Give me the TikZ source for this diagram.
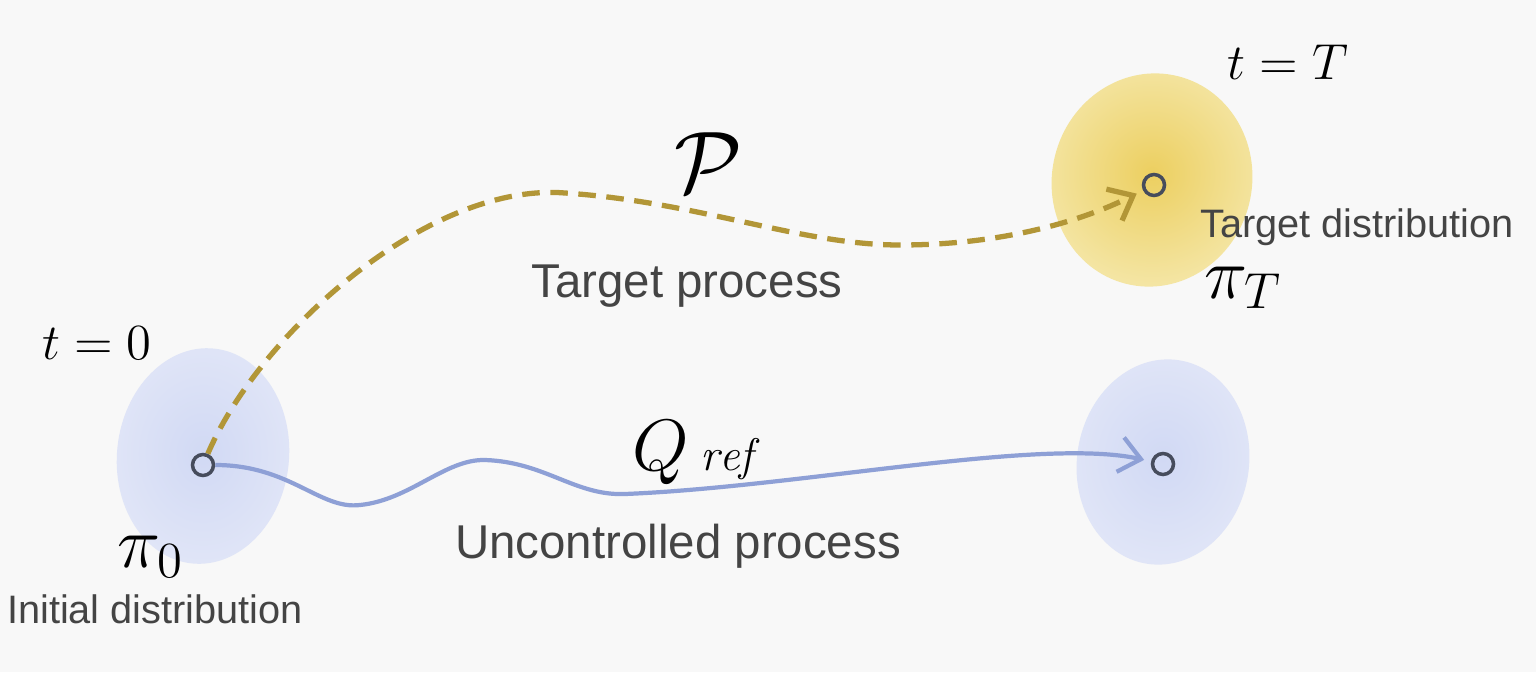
\documentclass[tikz,border=0pt]{standalone}
\usepackage{fontspec}
\newfontfamily\labelfont{Liberation Sans}
\usetikzlibrary{arrows.meta}
\definecolor{bggray}{RGB}{248,248,248}
\definecolor{blobblue}{RGB}{224,229,247}
\definecolor{blobbluec}{RGB}{209,217,244}
\definecolor{blobyel}{RGB}{244,229,163}
\definecolor{blobyelc}{RGB}{236,207,96}
\definecolor{pathgold}{RGB}{178,150,55}
\definecolor{pathblue}{RGB}{142,160,214}
\definecolor{dotgray}{RGB}{70,76,92}
\definecolor{labelgray}{RGB}{68,68,68}

\begin{document}
\begin{tikzpicture}[
  dot/.style={circle, draw=dotgray, line width=1pt, minimum size=0.21cm, inner sep=0pt},
  caption/.style={anchor=base, text=labelgray, font=\labelfont\fontsize{13.5}{16}\selectfont},
  smallcaption/.style={anchor=base, inner sep=0.5pt, text=labelgray, font=\labelfont\fontsize{11.3}{13}\selectfont},
  timelabel/.style={font=\fontsize{14.5}{17}\selectfont},
  distlabel/.style={anchor=base west, inner sep=0.5pt, font=\fontsize{20}{24}\selectfont},
  targetpath/.style={pathgold, line width=1.5pt, dash pattern=on 5pt off 3pt,
    -{Straight Barb[length=6pt, width=10pt, line width=1.5pt]}, shorten >=2pt},
  refpath/.style={pathblue, line width=1.2pt,
    -{Straight Barb[length=6pt, width=10pt, line width=1.2pt]}, shorten >=2pt}
]

\useasboundingbox (0, 0) rectangle (15.36, 6.72);
\fill[bggray] (0, 0) rectangle (15.36, 6.72);

\shade[inner color=blobbluec, outer color=blobblue, rotate around={-6:(2.03, 2.16)}] (2.03, 2.16) ellipse [x radius=0.86, y radius=1.08];
\shade[inner color=blobbluec, outer color=blobblue, rotate around={-9:(11.63, 2.10)}] (11.63, 2.10) ellipse [x radius=0.86, y radius=1.03];
\shade[inner color=blobyelc, outer color=blobyel, rotate around={-14:(11.52, 4.92)}] (11.52, 4.92) ellipse [x radius=1.0, y radius=1.07];

\node[dot] (start) at (2.03, 2.07) {};
\node[dot] (goal) at (11.54, 4.87) {};
\node[dot] (end) at (11.63, 2.08) {};

\node[timelabel] (tzero) at (0.97, 3.29) {$t = 0$};
\node[timelabel] (tend) at (12.88, 6.10) {$t = T$};

\node[distlabel] (pizero) at (1.15, 1.05) {$\pi_0$};
\node[smallcaption] (initial) at (1.55, 0.49) {Initial distribution};
\node[smallcaption] (target) at (13.57, 4.35) {Target distribution};
\node[distlabel] (piend) at (12.02, 3.74) {$\pi_T$};

\node[font=\fontsize{24}{28}\selectfont] (plabel) at (7.08, 5.09) {$\mathcal{P}$};
\node[caption] (tprocess) at (6.87, 3.75) {Target process};
\node[anchor=base, font=\fontsize{20}{24}\selectfont] (qlabel) at (6.93, 2.02) {$Q$\,{\fontsize{13}{15}\selectfont$\mathit{ref}$}};
\node[caption] (uprocess) at (6.78, 1.14) {Uncontrolled process};

\draw[targetpath] (start) .. controls (2.6, 3.4) and (4.3, 4.9) .. (5.65, 4.79) .. controls (7.0, 4.7) and (8.0, 4.27) .. (9.0, 4.27) .. controls (10.0, 4.27) and (10.8, 4.5) .. (goal);
\draw[refpath] (start) .. controls (2.9, 2.07) and (3.2, 1.62) .. (3.6, 1.67) .. controls (4.1, 1.72) and (4.45, 2.13) .. (4.85, 2.12) .. controls (5.45, 2.1) and (5.75, 1.76) .. (6.25, 1.78) .. controls (8.0, 1.85) and (10.4, 2.35) .. (end);

\end{tikzpicture}
\end{document}
